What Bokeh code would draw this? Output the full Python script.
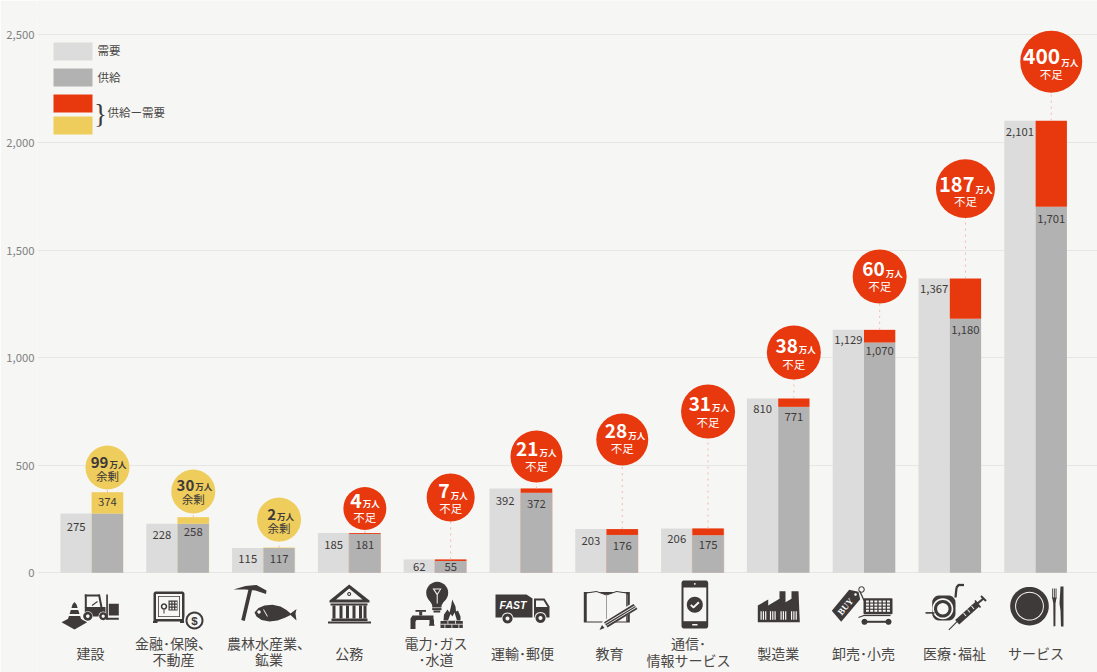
import math
from bokeh.core.properties import value
from bokeh.embed import file_html
from bokeh.models import ColumnDataSource, FixedTicker, NumeralTickFormatter, Range1d, Label
from bokeh.plotting import figure
from bokeh.resources import INLINE

# ---------- data ----------
sectors = ["建設", "金融･保険、\n不動産", "農林水産業、\n鉱業", "公務", "電力･ガス\n･水道", "運輸･郵便",
           "教育", "通信･\n情報サービス", "製造業", "卸売･小売", "医療･福祉", "サービス"]
demand = [275, 228, 115, 185, 62, 392, 203, 206, 810, 1129, 1367, 2101]
supply = [374, 258, 117, 181, 55, 372, 176, 175, 771, 1070, 1180, 1701]
gap = [99, 30, 2, 4, 7, 21, 28, 31, 38, 60, 187, 400]
y_ticks = [0, 500, 1000, 1500, 2000, 2500]

# ---------- palette ----------
BG = "#f6f6f4"
GRID = "#e6e6e4"
C_DEMAND = "#dbdcdb"
C_SUPPLY = "#b2b2b2"
C_RED = "#e8380d"
C_YEL = "#eecd5c"
DARK = "#3e3a39"
TXT = "#4a4745"
FONT = "Noto Sans CJK JP"
F = value(FONT)

# ---------- layout (pixels) ----------
W, H = 1097, 672
LEFT = 37
Y0_PX, PX_PER_UNIT = 572.3, 0.2152
X0_PX, X_STEP = 91.3, 85.8
BAR_W = 0.365
D_X = BAR_W / 2

demand_label_dy = [12.6, 10.8, 10.5, 11.5, 7, 12, 11.4, 10.5, 10, 9.7, 10, 11]
supply_label_dy = [9, 14, 11, 11, 5.5, 11, 10.6, 9.4, 9.6, 8, 10.6, 11.7]
bubble_gap = [24.8, 25.8, 28, 24.5, 62, 32, 89.6, 117, 46, 53.3, 90, 59]
bubble_r = [22, 22, 22, 21.5, 24, 26, 26, 27, 27, 27, 29.5, 31]
num_size = [15, 15, 15, 19.5, 19.5, 19, 19, 19, 19, 19, 20, 21]
num_anchor = [1, 1, -3, -3, -1, 2, 5, 3, 4, 5, 9, 9]
num_dy = [-5, -6, -5, -8, -6.5, -7.5, -8.5, -7.5, -6.5, -7.5, -4.5, -5.5]
unit_dy = [-4, -5, -4, -5, -2.5, -4, -5, -4, -3, -4, 0, 0]
note_dy = [8.5, 7.5, 8.2, 8.5, 10.5, 9.5, 8.5, 10.5, 11.5, 9.5, 12.5, 12.5]
label_cx = [90, 173, 268.5, 348.7, 435.5, 522, 609, 688, 777.7, 863, 954, 1035.5]
label_cy = [652, 650.5, 650.5, 652, 650.5, 652, 652, 651, 652, 652, 652, 652]

p = figure(width=W, height=H, output_backend="svg", toolbar_location=None,
           x_range=Range1d((LEFT - X0_PX) / X_STEP, (W - X0_PX) / X_STEP),
           y_range=Range1d((Y0_PX - H) / PX_PER_UNIT, Y0_PX / PX_PER_UNIT),
           min_border_left=LEFT, min_border_right=0, min_border_top=0, min_border_bottom=0,
           background_fill_color=BG, border_fill_color=BG, outline_line_color=None)
p.extra_x_ranges = {"px": Range1d(LEFT, W)}
p.extra_y_ranges = {"px": Range1d(H, 0)}
PX = dict(x_range_name="px", y_range_name="px")

p.xaxis.visible = False
p.xgrid.visible = False
p.ygrid.ticker = FixedTicker(ticks=y_ticks)
p.ygrid.grid_line_color = GRID
p.ygrid.grid_line_width = 1
ax = p.yaxis[0]
ax.ticker = FixedTicker(ticks=y_ticks)
ax.formatter = NumeralTickFormatter(format="0,0")
ax.axis_line_color = None
ax.major_tick_line_color = None
ax.minor_tick_line_color = None
ax.major_tick_in = 0
ax.major_tick_out = 0
ax.minor_tick_in = 0
ax.minor_tick_out = 0
ax.major_label_standoff = 3
ax.major_label_text_font = FONT
ax.major_label_text_font_size = "11.3px"
ax.major_label_text_color = "#7f7f7f"

# ---------- bars ----------
idx = list(range(len(sectors)))
low = [min(d, s) for d, s in zip(demand, supply)]
high = [max(d, s) for d, s in zip(demand, supply)]
cap_color = [C_YEL if s > d else C_RED for d, s in zip(demand, supply)]
src = ColumnDataSource(dict(
    x=idx, demand=demand, supply=supply, low=low, high=high, gap=gap, cap_color=cap_color,
    xs=[i + D_X for i in idx], xd=[i - D_X for i in idx],
    d_txt=[f"{v:,}" for v in demand], s_txt=[f"{v:,}" for v in supply],
    d_dy=demand_label_dy, s_dy=supply_label_dy,
    halo_alpha=[0.3] * 8 + [0] * 4,
    by=[h + g / PX_PER_UNIT for h, g in zip(high, bubble_gap)],
    size=[2 * r for r in bubble_r],
))
p.vbar(x="xd", top="demand", bottom=0, width=BAR_W, fill_color=C_DEMAND, line_color=None, source=src)
p.vbar(x="xs", top="high", bottom=0, width=BAR_W + 0.012, fill_color="cap_color", fill_alpha="halo_alpha",
       line_color=None, source=src)
p.vbar(x="xs", top="low", bottom=0, width=BAR_W, fill_color=C_SUPPLY, line_color=None, source=src)
p.vbar(x="xs", top="high", bottom="low", width=BAR_W, fill_color="cap_color", line_color=None, source=src)

lab = dict(text_font=F, text_font_size="11.3px", text_color=DARK, text_align="center", text_baseline="middle")
p.text(x="xd", y="demand", text="d_txt", y_offset="d_dy", source=src, **lab)
p.text(x="xs", y="supply", text="s_txt", y_offset="s_dy", source=src, **lab)

# ---------- bubbles ----------
p.segment(x0="xs", y0="high", x1="xs", y1="by", line_color="#f3b9a9", line_width=1, line_dash="dotted", source=src)
p.scatter(x="xs", y="by", size="size", fill_color="cap_color", line_color=None, source=src)

ink = ["#3e3a39" if s > d else "#ffffff" for d, s in zip(demand, supply)]
note = ["余剰" if s > d else "不足" for d, s in zip(demand, supply)]
bsrc = ColumnDataSource(dict(
    x=src.data["xs"], y=src.data["by"], num=[str(g) for g in gap], ink=ink, note=note,
    unit=["万人"] * 12, ns=[f"{n}px" for n in num_size],
    nx=num_anchor, ux=[a + 1 for a in num_anchor], ndy=num_dy, udy=unit_dy, tdy=note_dy,
))
p.text(x="x", y="y", text="num", x_offset="nx", y_offset="ndy", text_font=F, text_font_style="bold",
       text_font_size="ns", text_color="ink", text_align="right", text_baseline="middle", source=bsrc)
p.text(x="x", y="y", text="unit", x_offset="ux", y_offset="udy", text_font=F, text_font_style="bold",
       text_font_size="8.5px", text_color="ink", text_align="left", text_baseline="middle", source=bsrc)
p.text(x="x", y="y", text="note", y_offset="tdy", text_font=F,
       text_font_size="11.5px", text_color="ink", text_align="center", text_baseline="middle", source=bsrc)

# ---------- category labels ----------
p.text(x=label_cx, y=label_cy, text=sectors, text_font=F, text_font_size="14px", text_color=TXT,
       text_align="center", text_baseline="middle", text_line_height=0.82, **PX)

# ---------- legend ----------
leg_y0 = [42, 68, 94, 116]
leg_y1 = [60, 86, 112, 134]
leg_c = [C_DEMAND, C_SUPPLY, C_RED, C_YEL]
p.quad(left=[53] * 4, right=[92] * 4, top=leg_y0, bottom=leg_y1, fill_color=leg_c, line_color=None, **PX)
p.text(x=[97, 97, 107], y=[49.5, 76, 111.5], text=["需要", "供給", "供給ー需要"], text_font=F,
       text_font_size="11.5px", text_color=TXT, text_baseline="middle", **PX)
p.text(x=[100], y=[113], text=["}"], text_font=value("Liberation Serif"), text_font_size="27px", text_color=DARK,
       text_align="center", text_baseline="middle", **PX)
p.add_layout(Label(x=13, y=11, text="(万人)", text_font=FONT, text_font_size="9px", text_color="#7f7f7f",
                   text_baseline="middle", **PX))

# ---------- icons (decoration, in page pixels) ----------
shapes = []
def poly(pts, c=DARK):
    shapes.append((pts, c))
def rect(x0, y0, x1, y1, c=DARK):
    poly([(x0, y0), (x1, y0), (x1, y1), (x0, y1)], c)
def disc(cx, cy, r, c=DARK, n=28):
    poly([(cx + r * math.cos(2 * math.pi * k / n), cy + r * math.sin(2 * math.pi * k / n)) for k in range(n)], c)
def seg(x0, y0, x1, y1, w, c=DARK):
    dx, dy = x1 - x0, y1 - y0
    L = math.hypot(dx, dy) or 1
    nx, ny = -dy / L * w / 2, dx / L * w / 2
    poly([(x0 + nx, y0 + ny), (x1 + nx, y1 + ny), (x1 - nx, y1 - ny), (x0 - nx, y0 - ny)], c)
def rrect(x0, y0, x1, y1, r, c=DARK):
    pts = []
    for cx, cy, a0 in [(x1 - r, y0 + r, -90), (x1 - r, y1 - r, 0), (x0 + r, y1 - r, 90), (x0 + r, y0 + r, 180)]:
        for k in range(6):
            a = math.radians(a0 + 18 * k)
            pts.append((cx + r * math.cos(a), cy + r * math.sin(a)))
    poly(pts, c)

# 1 cone + forklift
poly([(61, 621.7), (74, 615), (86.7, 621.7), (74, 629)])
poly([(74, 601.5), (76, 604), (81, 620), (67, 620), (72, 604)])
rect(66, 607.5, 82, 609.5, BG)
rect(66, 613.5, 82, 615.5, BG)
rect(84.3, 594, 99, 596)
seg(85.3, 594, 85.3, 607, 2)
seg(98.5, 594, 101, 607, 2)
seg(91.5, 605, 97, 601, 1, DARK)
rect(84.3, 606.5, 105, 616)
disc(87.3, 615.7, 5, BG); disc(87.3, 615.7, 4.5); disc(87.3, 615.7, 1.8, BG)
disc(102.7, 615.7, 4.6, BG); disc(102.7, 615.7, 4); disc(102.7, 615.7, 1.6, BG)
rect(105.7, 594, 107.4, 619.3)
rect(105.7, 617.3, 118.3, 619.3)
rect(108.3, 603.3, 118.3, 615)
# 2 safe + coin
rrect(153, 591, 184, 621, 2.5)
rect(152.5, 620, 157, 622.5); rect(179.5, 620, 184, 622.5)
rect(155.5, 593.5, 181.5, 618.5, BG)
rect(157.5, 595.5, 179.5, 616.5)
rect(158.3, 596.3, 178.7, 615.7, BG)
disc(163.5, 606, 3.2); disc(163.5, 606, 1.7, BG); rect(163, 609, 164, 613)
rect(168, 600, 177, 610)
for xx in (169.2, 172, 174.8):
    for yy in (601.2, 604.2, 607.2):
        rect(xx, yy, xx + 1.6, yy + 1.7, BG)
disc(194, 620, 10.5, BG); disc(194, 620, 9); disc(194, 620, 7, BG)
# 3 pickaxe + fish
poly([(233, 589), (245, 585.5), (256, 584.5), (266, 590), (265.5, 593.5), (255, 590), (245, 589)])
seg(250.5, 586, 242.5, 620, 3.6)
poly([(254, 612), (258, 607.5), (264, 605), (272, 604.3), (280, 606), (286, 609.5), (290, 613), (296, 608.5), (295, 613), (296, 620), (290, 614.5), (285, 617), (277, 620), (269, 621), (261, 619.5), (256, 616)])
disc(258.5, 611.5, 1.7, BG)
seg(263, 609, 267, 616, 0.8, BG)
# 4 bank
poly([(348.7, 584), (369, 600), (369, 602), (329, 602), (329, 600)])
poly([(348.7, 588), (362, 599), (335.5, 599)], BG)
disc(348.7, 593.5, 2); disc(348.7, 593.5, 0.9, BG)
rect(330, 603, 367, 605)
for xx in (332, 339, 345.5, 352, 358.5, 363):
    rect(xx, 605, xx + 3, 618)
rect(331, 618, 367, 620.5)
rect(327.5, 621, 370.5, 623)
# 5 bulb, tap, flame
disc(436.7, 592.3, 11)
poly([(428, 598), (445, 598), (441, 605), (432, 605)])
rect(431.7, 604, 441, 607); rect(431.7, 607.6, 441, 609.6); rect(433, 610, 439.7, 612)
poly([(432, 588), (441, 588), (436.7, 595)], BG)
poly([(434, 589), (439.4, 589), (436.7, 593)])
rect(436.2, 594, 437.2, 603, BG)
rect(415, 609.5, 425.5, 611.3); rect(418.7, 611, 421.7, 615)
poly([(412, 615), (433, 615), (433, 619.5), (416, 619.5), (415, 621), (415, 628.5), (410, 628.5), (410, 618)])
rect(429, 619, 433.5, 624.5); rect(428.5, 624, 434, 625.3)
poly([(443, 620), (443.5, 614), (447, 609), (449, 612), (450.5, 606), (451.7, 599), (455, 606), (455.5, 611), (457.5, 610), (460, 616), (460, 620)])
poly([(447.5, 620), (450, 613.5), (452, 616), (454, 612), (456.5, 620)], BG)
rect(440, 620.5, 462.3, 627.5)
rect(440, 623.3, 462.3, 624.1, BG)
for xx, a, b in [(447, 620.5, 623.3), (454.5, 620.5, 623.3), (444, 624.1, 627.5), (451, 624.1, 627.5), (458, 624.1, 627.5)]:
    rect(xx, a, xx + 0.8, b, BG)
# 6 truck
poly([(495, 594), (526, 594), (532, 598), (532, 617), (495, 617)])
poly([(533.5, 598), (544, 598), (549, 606), (549, 617), (533.5, 617)])
poly([(535.5, 600), (543, 600), (547, 606.5), (535.5, 606.5)], BG)
disc(507, 618, 6, BG); disc(507, 618, 5); disc(507, 618, 2, BG)
disc(540, 617.5, 6, BG); disc(540, 617.5, 5); disc(540, 617.5, 2, BG)
# 7 book + pencil
rect(583.3, 591.5, 629.3, 622, DARK)
rect(585.5, 594, 627.3, 620, C_SUPPLY)
poly([(586, 592.5), (596, 591), (606, 594.5), (616, 591), (626, 592.5), (626, 621), (586, 621)], BG)
rect(585, 592.5, 586.2, 621, DARK)
rect(625.8, 592.5, 627, 621, DARK)
poly([(586, 592), (596, 590.5), (606, 594), (616, 590.5), (626, 592), (626, 593), (616, 591.5), (606, 595), (596, 591.5), (586, 593)])
rect(605.6, 594, 606.4, 621, "#8a8887")
poly([(599, 629.5), (602, 621), (632.5, 602), (637, 608.5), (606, 627)], BG)
poly([(603.5, 621.8), (633, 603.5), (637, 608.5), (607, 627)])
seg(604.8, 623.2, 634.3, 605.3, 0.8, BG)
seg(606, 625, 635.5, 606.9, 0.8, BG)
poly([(599, 629.5), (601.5, 624.5), (604, 627.5)])
# 8 phone
rrect(681, 580, 707.7, 628, 2.5)
rect(683, 587, 705.8, 620.7, BG)
disc(694.3, 583.4, 0.9, BG)
rect(691.7, 623.5, 697, 625, BG)
disc(694.3, 604.3, 8)
seg(690.3, 604.3, 693.2, 607.2, 1.9, BG)
seg(692.6, 607.2, 698.4, 601.7, 1.9, BG)
# 9 factory
poly([(757.3, 621.7), (757.3, 605), (767.7, 599), (767.7, 605), (779, 598.3), (779, 590.7), (785, 590.7), (785, 601.7), (791, 598.3), (791, 590.7), (798, 590.7), (799.3, 621.7)])
for xx in (760, 762.3, 764.6, 769.4, 771.7, 774, 780, 782.3, 784.6, 790.5, 792.8, 795.1):
    rect(xx, 610.7, xx + 1.2, 619.3, BG)
# 10 tag + cart
poly([(831.3, 610.3), (848.7, 589.3), (858, 591.3), (859.7, 598.7), (840.7, 621.3)])
disc(855, 594, 1.3, BG)
disc(861, 589, 3.2); disc(861, 589, 2.2, BG)
seg(859.5, 591, 863.5, 600, 1.3)
rrect(863, 597.7, 892, 613.7, 1)
for r_ in range(4):
    for c_ in range(6):
        rect(865.5 + c_ * 4.2, 600 + r_ * 3.1, 868.4 + c_ * 4.2, 602 + r_ * 3.1, BG)
seg(858, 617, 864, 614.7, 1.2)
rect(863, 614.4, 890, 615.6)
disc(864, 621.3, 3); disc(888, 621.3, 3)
rect(864, 620.3, 888, 622.3)
# 11 wheelchair + syringe
rrect(931.7, 595, 955, 620, 7)
disc(942.3, 608.3, 10.5, BG); disc(942.3, 608.3, 8.8); disc(942.3, 608.3, 5.7, BG)
seg(925, 612.4, 934, 612.4, 1.6)
seg(955, 597, 956, 587, 2.3); seg(955.9, 587.2, 958, 584.5, 2.3); seg(957.5, 584.5, 963.5, 584.5, 2.3)
seg(948.3, 629.3, 958.3, 619.3, 1.1)
seg(956.7, 621.7, 977.3, 603.3, 6)
seg(974.5, 600, 980, 607, 1.6)
seg(977, 603, 983, 598, 2.2)
seg(980.5, 595.5, 985.5, 600.5, 2)
seg(963, 612.5, 965.5, 615.5, 1, BG); seg(967, 609, 969.5, 612, 1, BG); seg(971, 605.5, 973.5, 608.5, 1, BG)
# 12 plate + cutlery
disc(1029, 605.7, 19.3, n=48); disc(1029, 605.7, 14.4, BG, n=48); disc(1029, 605.7, 13.4, n=48)
for xx in (1051.7, 1053.4, 1055.1):
    rect(xx, 588, xx + 0.9, 598)
poly([(1051.7, 597), (1056, 597), (1055, 603), (1054.9, 625.5), (1053, 626), (1052.8, 603)])
poly([(1060, 586), (1063, 586), (1063, 626), (1060.5, 626), (1060, 610), (1059, 603)])

p.patches(xs=[[q[0] for q in s[0]] for s in shapes], ys=[[q[1] for q in s[0]] for s in shapes],
          fill_color=[s[1] for s in shapes], line_color=None, **PX)
p.text(x=[512.5], y=[604.5], text=["FAST"], text_font=value("Liberation Sans"), text_font_style="bold italic",
       text_font_size="10.5px", text_color="#ffffff", text_align="center", text_baseline="middle", **PX)
p.text(x=[845], y=[606], text=["BUY"], angle=[50], angle_units="deg", text_font=value("Liberation Serif"),
       text_font_style="bold", text_font_size="9px", text_color="#ffffff", text_align="center",
       text_baseline="middle", **PX)
p.text(x=[194], y=[620], text=["$"], text_font=value("Liberation Sans"), text_font_style="bold",
       text_font_size="11.5px", text_color=DARK, text_align="center", text_baseline="middle", **PX)

open("out.html", "w").write(file_html(p, INLINE))
